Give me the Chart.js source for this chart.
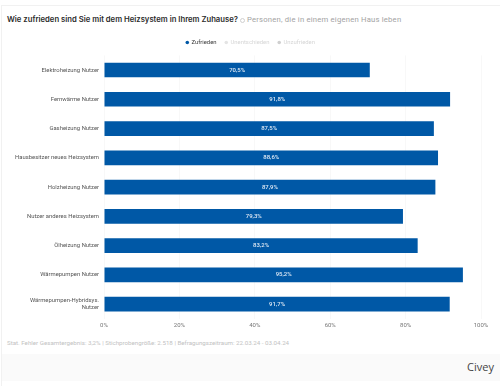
<!DOCTYPE html>
<html>
<head>
<meta charset="utf-8">
<script src="https://cdn.jsdelivr.net/npm/chart.js@4"></script>
<style>
	html, body { margin: 0; padding: 0; background: #fff; width: 500px; height: 386px; overflow: hidden; }
	#card { position: absolute; left: 1px; top: 5px; width: 498px; height: 385px; border-top: 1px solid #f1f1f1; border-left: 1px solid #f1f1f1; }
	#title { position: absolute; left: 7px; top: 15px; font: 600 7.7px Inter, sans-serif; color: #2b2b2b; white-space: nowrap; }
	#icon { position: absolute; left: 240px; top: 18px; width: 3px; height: 3px; border: 1px solid #d0d0d0; border-radius: 50%; }
	#subtitle { position: absolute; left: 247px; top: 15px; font: 400 7.7px Roboto, sans-serif; color: #a3a3a3; white-space: nowrap; letter-spacing: 0.2px; }
	#stat { position: absolute; left: 7px; top: 339px; font: 400 6.2px Roboto, sans-serif; color: #c2c2c2; white-space: nowrap; }
	#foot { position: absolute; left: 2px; top: 354px; width: 498px; height: 27px; background: #fafafa; }
	#brand { position: absolute; right: 6px; top: 359px; font: 400 11px "Open Sans", sans-serif; color: #444; }
	#wrap { position: absolute; left: 0; top: 31px; width: 500px; height: 301px; }
</style>
</head>
<body>
<div id="card"></div>
<div id="title">Wie zufrieden sind Sie mit dem Heizsystem in Ihrem Zuhause?</div>
<div id="icon"></div>
<div id="subtitle">Personen, die in einem eigenen Haus leben</div>
<div id="wrap"><canvas id="myChart"></canvas></div>
<div id="stat">Stat. Fehler Gesamtergebnis: 3,2% | Stichprobengröße: 2.518 | Befragungszeitraum: 22.03.24 - 03.04.24</div>
<div id="foot"></div>
<div id="brand">Civey</div>
<script>
const kategorien = [
	'Elektroheizung Nutzer',
	'Fernwärme Nutzer',
	'Gasheizung Nutzer',
	'Hausbesitzer neues Heizsystem',
	'Holzheizung Nutzer',
	'Nutzer anderes Heizsystem',
	'Ölheizung Nutzer',
	'Wärmepumpen Nutzer',
	['Wärmepumpen-Hybridsys.', 'Nutzer']
];
const zufrieden = [70.5, 91.8, 87.5, 88.6, 87.9, 79.3, 83.2, 95.2, 91.7];
const xTicks = [0, 20, 40, 60, 80, 100];

// Wert mittig in den Balken schreiben
const balkenLabels = {
	id: 'balkenLabels',
	afterDatasetsDraw(chart) {
		const ctx = chart.ctx;
		ctx.save();
		ctx.font = '500 6px Roboto';
		ctx.fillStyle = '#dfe9f4';
		ctx.textAlign = 'center';
		ctx.textBaseline = 'middle';
		chart.getDatasetMeta(0).data.forEach((bar, i) => {
			const txt = zufrieden[i].toFixed(1).replace('.', ',') + '%';
			ctx.fillText(txt, (bar.base + bar.x) / 2, bar.y);
		});
		ctx.restore();
	}
};

// Legende auf die Seitenmitte schieben (layout.padding.right verschiebt sie sonst)
const legendeMitte = {
	id: 'legendeMitte',
	afterLayout(chart) {
		chart.legend.left += 10;
		chart.legend.right += 10;
	}
};

const ctx = document.getElementById('myChart').getContext('2d');
new Chart(ctx, {
	type: 'bar',
	data: {
		labels: kategorien,
		datasets: [
			{ label: 'Zufrieden', data: zufrieden, backgroundColor: '#0058a6', categoryPercentage: 0.5, barPercentage: 1 },
			{ label: 'Unentschieden', data: [], backgroundColor: '#e4e4e4', hidden: true },
			{ label: 'Unzufrieden', data: [], backgroundColor: '#cfcfcf', hidden: true }
		]
	},
	options: {
		indexAxis: 'y',
		responsive: true,
		maintainAspectRatio: false,
		animation: false,
		layout: { padding: { right: 19, bottom: 0 } },
		plugins: {
			tooltip: { enabled: false },
			legend: {
				position: 'top',
				align: 'center',
				onClick: null,
				labels: {
					usePointStyle: true,
					pointStyle: 'circle',
					boxWidth: 2.5,
					boxHeight: 2.5,
					padding: 8.5,
					font: { family: 'Roboto', size: 5.9 },
					generateLabels(chart) {
						return chart.data.datasets.map((ds, i) => ({
							text: ds.label,
							fillStyle: ds.backgroundColor,
							strokeStyle: ds.backgroundColor,
							lineWidth: 0,
							fontColor: i == 0 ? '#3a3a3a' : '#d6d6d6',
							hidden: false,
							pointStyle: 'circle',
							datasetIndex: i
						}));
					}
				}
			}
		},
		scales: {
			x: {
				min: 0,
				max: 100,
				afterBuildTicks(axis) { axis.ticks = xTicks.map((v) => ({ value: v })); },
				grid: { color: '#f8f8f8', drawTicks: false },
				border: { display: false },
				ticks: {
					padding: 3,
					maxRotation: 0,
					color: '#777',
					font: { family: 'Roboto', size: 6 },
					callback: (v) => v + '%'
				}
			},
			y: {
				afterFit(axis) { axis.width = 104; },
				grid: { display: false, drawTicks: false },
				border: { display: false },
				ticks: {
					padding: 5,
					color: '#555',
					font: { family: 'Roboto', size: 5.9 },
					autoSkip: false
				}
			}
		}
	},
	plugins: [balkenLabels, legendeMitte]
});
</script>
</body>
</html>
